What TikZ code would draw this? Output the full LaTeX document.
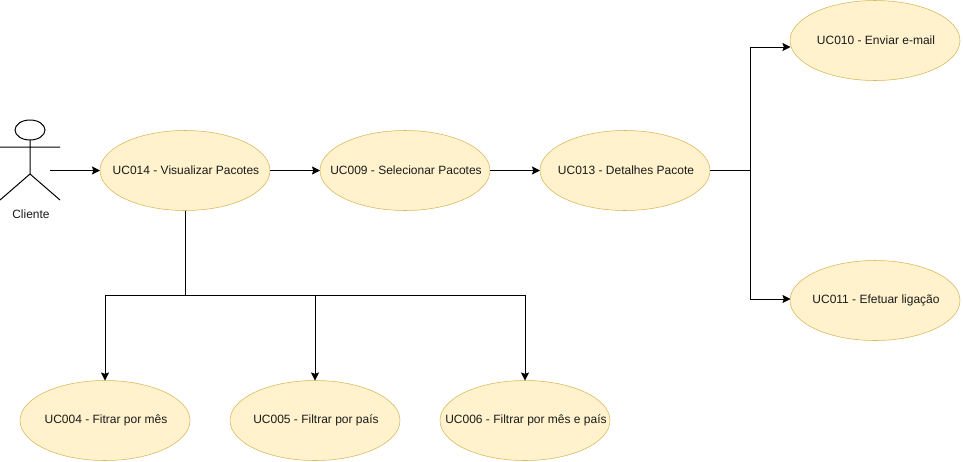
\documentclass[tikz,border=0pt]{standalone}
\usepackage{fontspec}
\setmainfont{Liberation Sans}
\usepackage{xcolor}
\usetikzlibrary{arrows.meta,positioning,shapes.geometric}
\definecolor{ucfill}{HTML}{FFF2CC}
\definecolor{ucline}{HTML}{D6B656}
\definecolor{txt}{HTML}{1A1A1A}
\newcommand{\uctext}[1]{\makebox[0pt]{\hspace{1.5pt}#1}}
\tikzset{
  usecase/.style={draw=ucline, fill=ucfill, ellipse, align=center, inner sep=0pt, outer sep=0pt,
    minimum width=127.5pt, minimum height=60pt, font=\fontsize{9}{11}\selectfont, text=txt},
  flow/.style={draw=black, line width=0.75pt, -{Stealth[length=6pt,width=6pt,inset=1pt]}},
  link/.style={draw=black, line width=0.75pt},
  person/.style={draw=black, line width=0.75pt},
  lbl/.style={font=\fontsize{9}{11}\selectfont, text=txt, inner sep=0pt}
}
\begin{document}
\begin{tikzpicture}[x=0.75pt, y=-0.75pt, node distance=37.5pt and 37.5pt]
    \useasboundingbox (0,0) rectangle (963,461);
    % actor
    \draw[person] (30,130) ellipse [x radius=15, y radius=10];
    \draw[person] (30,140) -- (30,174) (0,147) -- (60,147) (0,200) -- (30,174) -- (60,200);
    \node[lbl] (cliente) at (31,214) {Cliente};
    \coordinate (clientearm) at (50,170.5);

    % top row
    \node[usecase] (uc014) at (185,170.5) {\uctext{UC014 - Visualizar Pacotes}};
    \node[usecase, right=of uc014] (uc009) {\uctext{UC009 - Selecionar Pacotes}};
    \node[usecase, right=of uc009] (uc013) {\uctext{UC013 - Detalhes Pacote}};

    % right column
    \node[usecase] (uc010) at (875,40.5) {\uctext{UC010 - Enviar e-mail}};
    \node[usecase, below=135pt of uc010] (uc011) {\uctext{UC011 - Efetuar ligação}};

    % bottom row
    \node[usecase] (uc004) at (105,420.5) {\uctext{UC004 - Fitrar por mês}};
    \node[usecase, right=30pt of uc004] (uc005) {\uctext{UC005 - Filtrar por país}};
    \node[usecase, right=30pt of uc005] (uc006) {\uctext{UC006 - Filtrar por mês e país}};

    \coordinate (split) at (750,170.5);
    \coordinate (uc010in) at (790.5,47);
    \coordinate (uc011in) at (790.5,299);
    \coordinate (bus) at (185,295);

    \draw[flow] (clientearm) -- (uc014);
    \draw[flow] (uc014) -- (uc009);
    \draw[flow] (uc009) -- (uc013);
    \draw[link] (uc013) -- (split);
    \draw[flow] (split) |- (uc010in);
    \draw[flow] (split) |- (uc011in);
    \draw[link] (uc014) -- (bus);
    \draw[flow] (bus) -| (uc004);
    \draw[flow] (bus) -| (uc005);
    \draw[flow] (bus) -| (uc006);
  \end{tikzpicture}
\end{document}
